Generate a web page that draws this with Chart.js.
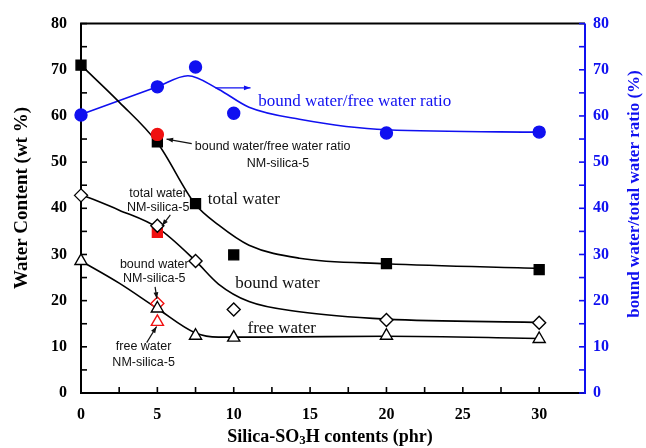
<!DOCTYPE html>
<html>
<head>
<meta charset="utf-8">
<script src="https://cdn.jsdelivr.net/npm/chart.js@4/dist/chart.umd.min.js"></script>
<style>
  html, body { margin: 0; padding: 0; background: #fff; }
  #wrap { width: 646px; height: 448px; }
</style>
</head>
<body>
<div id="wrap"><canvas id="waterChart" width="646" height="448"></canvas></div>
<script>
// measured samples (phr of Silica-SO3H)
const contents = [0, 5, 7.5, 10, 20, 30];
const totalWater = [71, 54.4, 41, 29.9, 28, 26.7];
const boundWater = [42.8, 36.2, 28.6, 18.1, 15.8, 15.2];
const freeWater = [28.6, 18.3, 12.4, 12, 12.4, 11.7];
const ratio = [60.2, 66.3, 70.6, 60.6, 56.3, 56.5];

// NM-silica-5 points (red)
const nmX = 5;
const nmRatio = 56;
const nmTotal = 34.8;
const nmBound = 19.4;
const nmFree = 15.4;

// fitted trend curves
const totalFitX = [0, 2.5, 5, 7.5, 9, 11, 14.3, 20, 30];
const totalFitY = [71, 63, 54.2, 40.8, 36.4, 32, 29.2, 28, 27];
const boundFitX = [0, 2.5, 5, 7.5, 9, 11, 14.3, 20, 30];
const boundFitY = [43, 39.6, 35.8, 28.6, 23.6, 19.8, 17.6, 16, 15.3];
const freeFitX = [0, 2.5, 5, 7.5, 9, 12, 20, 30];
const freeFitY = [28.6, 23.8, 18.3, 13, 12.1, 12.1, 12.3, 11.8];
const ratioFitX = [0, 5, 7, 9, 11, 14.3, 20, 30];
const ratioFitY = [60.3, 66.3, 68.7, 65.8, 61.9, 59.3, 57, 56.5];

const xTicksMajor = [0, 5, 10, 15, 20, 25, 30];

const BLUE = '#1010f0';
const SERIF = '"Liberation Serif", "Times New Roman", serif';
const SANS = '"Liberation Sans", Arial, sans-serif';

function pts(xs, ys) {
    return xs.map((x, i) => ({ x: x, y: ys[i] }));
}

// text labels placed in data coordinates
const notes = [
    { text: 'bound water/free water ratio', x: 11.6, y: 63.1, size: 17, font: SERIF, color: BLUE, align: 'left' },
    { text: 'bound water/free water ratio', x: 7.45, y: 53.3, size: 12.5, font: SANS, color: '#111', align: 'left' },
    { text: 'NM-silica-5', x: 12.9, y: 49.6, size: 12.5, font: SANS, color: '#111', align: 'center' },
    { text: 'total water', x: 8.3, y: 41.8, size: 17, font: SERIF, color: '#111', align: 'left' },
    { text: 'total water', x: 5.05, y: 43.3, size: 12.5, font: SANS, color: '#111', align: 'center' },
    { text: 'NM-silica-5', x: 5.05, y: 40.2, size: 12.5, font: SANS, color: '#111', align: 'center' },
    { text: 'bound water', x: 10.1, y: 23.7, size: 17, font: SERIF, color: '#111', align: 'left' },
    { text: 'bound water', x: 4.8, y: 27.9, size: 12.5, font: SANS, color: '#111', align: 'center' },
    { text: 'NM-silica-5', x: 4.8, y: 24.7, size: 12.5, font: SANS, color: '#111', align: 'center' },
    { text: 'free water', x: 10.9, y: 13.9, size: 17, font: SERIF, color: '#111', align: 'left' },
    { text: 'free water', x: 4.1, y: 10, size: 12.5, font: SANS, color: '#111', align: 'center' },
    { text: 'NM-silica-5', x: 4.1, y: 6.6, size: 12.5, font: SANS, color: '#111', align: 'center' }
];

const arrows = [
    { x1: 8.8, y1: 66.1, x2: 11.1, y2: 66.1, color: BLUE },
    { x1: 7.25, y1: 54, x2: 5.6, y2: 55, color: '#111' },
    { x1: 5.85, y1: 38.6, x2: 5.3, y2: 36.2, color: '#111' },
    { x1: 4.85, y1: 23, x2: 4.97, y2: 20.4, color: '#111' },
    { x1: 4.3, y1: 10.9, x2: 4.95, y2: 14.4, color: '#111' }
];

function drawArrow(ctx, x1, y1, x2, y2, color) {
    const a = Math.atan2(y2 - y1, x2 - x1);
    ctx.strokeStyle = color;
    ctx.fillStyle = color;
    ctx.lineWidth = 1.2;
    ctx.beginPath();
    ctx.moveTo(x1, y1);
    ctx.lineTo(x2, y2);
    ctx.stroke();
    ctx.beginPath();
    ctx.moveTo(x2, y2);
    ctx.lineTo(x2 - 7 * Math.cos(a - 0.35), y2 - 7 * Math.sin(a - 0.35));
    ctx.lineTo(x2 - 7 * Math.cos(a + 0.35), y2 - 7 * Math.sin(a + 0.35));
    ctx.closePath();
    ctx.fill();
}

const framePlugin = {
    id: 'frame',
    beforeDatasetsDraw(c) {
        const ctx = c.ctx;
        const a = c.chartArea;
        const xs = c.scales.x, ys = c.scales.y, y2 = c.scales.y2;
        ctx.save();

        // frame
        ctx.lineWidth = 2;
        ctx.strokeStyle = '#000';
        ctx.beginPath();
        ctx.moveTo(a.right, a.top); ctx.lineTo(a.left, a.top);
        ctx.lineTo(a.left, a.bottom); ctx.lineTo(a.right, a.bottom);
        ctx.stroke();
        ctx.strokeStyle = BLUE;
        ctx.beginPath();
        ctx.moveTo(a.right, a.top); ctx.lineTo(a.right, a.bottom + 1);
        ctx.stroke();

        // inward tick marks
        ctx.lineWidth = 1.6;
        ctx.strokeStyle = '#000';
        xs.ticks.forEach(t => {
            if (t.value % 2.5 !== 0) return;
            const px = xs.getPixelForValue(t.value);
            ctx.beginPath(); ctx.moveTo(px, a.bottom); ctx.lineTo(px, a.bottom - 6); ctx.stroke();
        });
        ys.ticks.forEach(t => {
            const py = ys.getPixelForValue(t.value);
            ctx.beginPath(); ctx.moveTo(a.left, py); ctx.lineTo(a.left + 6, py); ctx.stroke();
        });
        ctx.strokeStyle = BLUE;
        y2.ticks.forEach(t => {
            const py = y2.getPixelForValue(t.value);
            ctx.beginPath(); ctx.moveTo(a.right, py); ctx.lineTo(a.right - 6, py); ctx.stroke();
        });
        ctx.restore();
    },
    afterDraw(c) {
        const ctx = c.ctx;
        const xs = c.scales.x, ys = c.scales.y;
        ctx.save();

        // notes and arrows
        ctx.textBaseline = 'middle';
        notes.forEach(n => {
            ctx.font = n.size + 'px ' + n.font;
            ctx.fillStyle = n.color;
            ctx.textAlign = n.align;
            ctx.fillText(n.text, xs.getPixelForValue(n.x), ys.getPixelForValue(n.y));
        });
        arrows.forEach(r => drawArrow(ctx,
            xs.getPixelForValue(r.x1), ys.getPixelForValue(r.y1),
            xs.getPixelForValue(r.x2), ys.getPixelForValue(r.y2), r.color));

        // axis titles
        ctx.fillStyle = '#000';
        ctx.textAlign = 'center';
        ctx.font = 'bold 19px ' + SERIF;
        ctx.save();
        ctx.translate(22, 198);
        ctx.rotate(-Math.PI / 2);
        ctx.fillText('Water Content (wt %)', 0, 0);
        ctx.restore();

        ctx.fillStyle = BLUE;
        ctx.font = 'bold 17px ' + SERIF;
        ctx.save();
        ctx.translate(635, 194);
        ctx.rotate(-Math.PI / 2);
        ctx.fillText('bound water/total water ratio (%)', 0, 0);
        ctx.restore();

        // x title with subscript
        ctx.fillStyle = '#000';
        ctx.textAlign = 'left';
        const p1 = 'Silica-SO', p2 = '3', p3 = 'H contents (phr)';
        ctx.font = 'bold 18px ' + SERIF;
        const w1 = ctx.measureText(p1).width, w3 = ctx.measureText(p3).width;
        ctx.font = 'bold 13px ' + SERIF;
        const w2 = ctx.measureText(p2).width;
        let tx = 330 - (w1 + w2 + w3) / 2;
        const ty = 437;
        ctx.font = 'bold 18px ' + SERIF;
        ctx.fillText(p1, tx, ty);
        ctx.font = 'bold 13px ' + SERIF;
        ctx.fillText(p2, tx + w1, ty + 4);
        ctx.font = 'bold 18px ' + SERIF;
        ctx.fillText(p3, tx + w1 + w2, ty);
        ctx.restore();
    }
};

const curve = (xs, ys, color, axis) => ({
    type: 'line',
    data: pts(xs, ys),
    yAxisID: axis,
    borderColor: color,
    borderWidth: 1.6,
    pointRadius: 0,
    cubicInterpolationMode: 'monotone',
    fill: false,
    clip: false,
    order: 5
});

const marks = (xs, ys, style, radius, fill, stroke, axis, order) => ({
    type: 'line',
    data: pts(xs, ys),
    yAxisID: axis,
    showLine: false,
    pointStyle: style,
    pointRadius: radius,
    pointHoverRadius: radius,
    pointBackgroundColor: fill,
    pointBorderColor: stroke,
    pointBorderWidth: 1.4,
    clip: false,
    order: order === undefined ? 2 : order
});

const ctx = document.getElementById('waterChart').getContext('2d');
const chart = new Chart(ctx, {
    type: 'line',
    data: {
        datasets: [
            curve(totalFitX, totalFitY, '#000', 'y'),
            curve(boundFitX, boundFitY, '#000', 'y'),
            curve(freeFitX, freeFitY, '#000', 'y'),
            curve(ratioFitX, ratioFitY, BLUE, 'y2'),
            marks(contents, totalWater, 'rect', 7, '#000', '#000', 'y', 1),
            marks(contents, boundWater, 'rectRot', 6.5, '#fff', '#000', 'y'),
            marks(contents, freeWater, 'triangle', 7, '#fff', '#000', 'y'),
            marks(contents, ratio, 'circle', 6, BLUE, BLUE, 'y2'),
            marks([nmX], [nmRatio], 'circle', 6, '#f01010', '#f01010', 'y2', 0),
            marks([nmX], [nmTotal], 'rect', 7, '#f01010', '#f01010', 'y'),
            marks([nmX], [nmBound], 'rectRot', 6.5, '#fff', '#f01010', 'y'),
            marks([nmX], [nmFree], 'triangle', 7, '#fff', '#f01010', 'y')
        ]
    },
    options: {
        responsive: false,
        animation: false,
        layout: { padding: { top: 18, left: 0, right: 0, bottom: 0 } },
        plugins: {
            legend: { display: false },
            tooltip: { enabled: false }
        },
        scales: {
            x: {
                type: 'linear',
                min: 0,
                max: 33,
                grid: { display: false, drawTicks: false },
                border: { display: false },
                afterFit: s => { s.height = 55; },
                ticks: {
                    stepSize: 2.5,
                    autoSkip: false,
                    maxRotation: 0,
                    padding: 12,
                    color: '#000',
                    font: { family: SERIF, size: 16, weight: 'bold' },
                    callback: v => xTicksMajor.includes(v) ? v : ''
                }
            },
            y: {
                min: 0,
                max: 80,
                grid: { display: false, drawTicks: false },
                border: { display: false },
                afterFit: s => { s.width = 81; },
                ticks: {
                    stepSize: 5,
                    padding: 14,
                    color: '#000',
                    font: { family: SERIF, size: 16, weight: 'bold' },
                    callback: v => v % 10 === 0 ? v : ''
                }
            },
            y2: {
                position: 'right',
                min: 0,
                max: 80,
                grid: { display: false, drawTicks: false },
                border: { display: false },
                afterFit: s => { s.width = 61; },
                ticks: {
                    stepSize: 5,
                    padding: 8,
                    color: BLUE,
                    font: { family: SERIF, size: 16, weight: 'bold' },
                    callback: v => v % 10 === 0 ? v : ''
                }
            }
        }
    },
    plugins: [framePlugin]
});
</script>
</body>
</html>
